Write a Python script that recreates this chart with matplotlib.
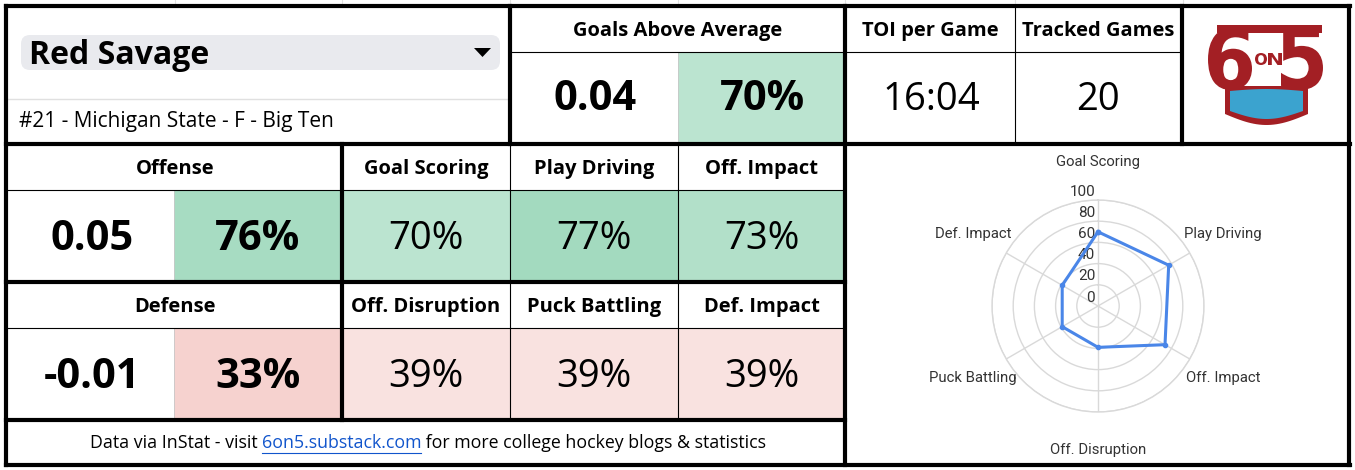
import numpy as np
import matplotlib
matplotlib.use('Agg')
from matplotlib import pyplot as plt
from matplotlib.colors import LinearSegmentedColormap
from matplotlib.patches import Rectangle, FancyBboxPatch, Polygon, PathPatch
from matplotlib.textpath import TextPath
from matplotlib.font_manager import FontProperties
from matplotlib.transforms import Affine2D

''' Player data '''
playerName = 'Red Savage'
playerInfo = '#21 - Michigan State - F - Big Ten'
gaaValue = 0.04
gaaPercentile = 70
toiPerGame = '16:04'
trackedGames = 20
offenseValue = 0.05
offensePercentile = 76
defenseValue = -0.01
defensePercentile = 33
offenseCategories = ['Goal Scoring', 'Play Driving', 'Off. Impact']
offensePercentiles = [70, 77, 73]
defenseCategories = ['Off. Disruption', 'Puck Battling', 'Def. Impact']
defensePercentiles = [39, 39, 39]
radarTicks = [0, 20, 40, 60, 80, 100]
footerParts = ['Data via InStat - visit ', '6on5.substack.com',
               ' for more college hockey blogs & statistics']

''' Layout (pixels) '''
W, H = 1355, 470
FONT = 'Open Sans'
THICK = 3.0
THIN = 0.8
HEAD = 14.5      # header size
BIG = 30         # bold big numbers
MED = 27.5       # regular percentiles
sheetScale = LinearSegmentedColormap.from_list('sheets', ['#e67c73', '#ffffff', '#57bb8a'])

fig = plt.figure(figsize=(W / 100, H / 100), dpi=100)
ax = fig.add_axes([0, 0, 1, 1])
ax.set_xlim(0, W)
ax.set_ylim(H, 0)
ax.axis('off')


def pct_color(p):
    return sheetScale(p / 100)


def cell(x0, x1, y0, y1, color):
    ax.add_patch(Rectangle((x0, y0), x1 - x0, y1 - y0, facecolor=color,
                           edgecolor='none', zorder=1))


def put(x, y, s, size, bold=False, ha='center', color='black'):
    return ax.text(x, y, s, fontsize=size, fontweight='bold' if bold else 'normal',
                   family=FONT, ha=ha, va='center', color=color, zorder=5)


# faint spreadsheet grid outside the card
for gx in [175, 342, 510, 678, 845, 1015, 1183]:
    ax.plot([gx, gx], [0, 6], color='#e2e2e2', lw=0.8, zorder=0)

''' Name block '''
ax.add_patch(FancyBboxPatch((21, 35), 479, 35, boxstyle='round,pad=0,rounding_size=9',
                            facecolor='#e9eaee', edgecolor='none', zorder=1))
put(29, 55, playerName, 23, bold=True, ha='left')
ax.add_patch(Polygon([[474, 48], [491, 48], [482.5, 57]], closed=True,
                     facecolor='black', edgecolor='none', zorder=5))
ax.plot([7, 510], [98.5, 98.5], color='#e0e0e0', lw=1, zorder=2)
put(19, 122, playerInfo, 15, ha='left')

''' Top stat boxes '''
cell(678, 845, 52, 143, pct_color(gaaPercentile))
put(677.5, 31, 'Goals Above Average', HEAD, bold=True)
put(595, 100, f'{gaaValue:.2f}', BIG, bold=True)
put(762, 100, f'{gaaPercentile}%', BIG, bold=True)
put(930, 31, 'TOI per Game', HEAD, bold=True)
put(1098, 31, 'Tracked Games', HEAD, bold=True)
put(931, 100, toiPerGame, 27.5)
put(1098, 100, str(trackedGames), 27.5)

''' Offense / defense rows '''
colEdges = [342, 510, 678, 845]
rows = [(144, 190, 282, 'Offense', offenseValue, offensePercentile,
         offenseCategories, offensePercentiles),
        (282, 328, 420, 'Defense', defenseValue, defensePercentile,
         defenseCategories, defensePercentiles)]
for top, mid, bot, title, value, pct, cats, pcts in rows:
    cell(174, 342, mid, bot, pct_color(pct))
    ax.plot([174, 174], [mid, bot], color='#c8c8c8', lw=0.6, zorder=2)
    put(175, (top + mid) / 2 + 2, title, HEAD, bold=True)
    put(92, (mid + bot) / 2 + 3, f'{value:.2f}', BIG, bold=True)
    put(258, (mid + bot) / 2 + 3, f'{pct}%', BIG, bold=True)
    for i, (cat, p) in enumerate(zip(cats, pcts)):
        x0, x1 = colEdges[i], colEdges[i + 1]
        cell(x0, x1, mid, bot, pct_color(p))
        put((x0 + x1) / 2, (top + mid) / 2 + 2, cat, HEAD, bold=True)
        put((x0 + x1) / 2, (mid + bot) / 2 + 3, f'{p}%', MED)
ax.plot([678, 678], [52, 143], color='#c8c8c8', lw=0.6, zorder=2)

''' Footer with link '''
renderer = fig.canvas.get_renderer()
parts = []
for i, s in enumerate(footerParts):
    t = ax.text(0, 443, s, fontsize=12.8, family=FONT, ha='left', va='center',
                color='#1155cc' if i == 1 else 'black', zorder=5)
    parts.append(t)
widths = [t.get_window_extent(renderer).width for t in parts]
xStart = 428 - sum(widths) / 2
for t, w in zip(parts, widths):
    t.set_x(xStart)
    if t.get_color() == '#1155cc':
        ax.plot([xStart, xStart + w], [453, 453], color='#1155cc', lw=0.8, zorder=5)
    xStart += w

''' Grid lines '''
thickLines = [((6, 1350), (6, 6)), ((6, 1350), (144, 144)), ((6, 845), (282, 282)),
              ((6, 845), (420, 420)), ((6, 1350), (465, 465)),
              ((6, 6), (6, 465)), ((1349, 1349), (6, 465)), ((845, 845), (6, 465)),
              ((510, 510), (6, 144)), ((1182, 1182), (6, 144)), ((342, 342), (144, 420))]
thinLines = [((510, 1182), (52, 52)), ((6, 845), (190, 190)), ((6, 845), (328, 328)),
             ((510, 510), (144, 420)), ((678, 678), (144, 420)), ((1015, 1015), (6, 144))]
for xs, ys in thickLines:
    ax.plot(xs, ys, color='black', lw=THICK, solid_capstyle='projecting', zorder=6)
for xs, ys in thinLines:
    ax.plot(xs, ys, color='black', lw=THIN, zorder=4)

''' Logo '''
logoRed = '#a31f24'
logoFont = FontProperties(family='DejaVu Sans', weight='bold')


def glyph(s, x0, x1, y0, y1):
    tp = TextPath((0, 0), s, size=100, prop=logoFont)
    bb = tp.get_extents()
    sx = (x1 - x0) / bb.width
    sy = (y1 - y0) / bb.height
    tr = Affine2D().translate(-bb.x0, -bb.y1).scale(sx, -sy).translate(x0, y0)
    ax.add_patch(PathPatch(tr.transform_path(tp), facecolor=logoRed,
                           edgecolor='none', zorder=5))


glyph('6', 1208, 1252, 27, 90)
glyph('5', 1281, 1323, 25, 90)
ax.add_patch(Rectangle((1217, 25), 105, 8, facecolor=logoRed, edgecolor='none', zorder=5))
glyph('O', 1255, 1267, 53, 65)
glyph('N', 1268, 1282, 53, 65)
bowlX = np.linspace(0, 1, 30)
outer = ([[1225, 86], [1308, 86], [1308, 114]] +
         [[1308 - 83 * t, 114 + 11 * np.sin(np.pi * t)] for t in bowlX] +
         [[1225, 114]])
ax.add_patch(Polygon(outer, closed=True, facecolor=logoRed, edgecolor='none', zorder=5))
inner = ([[1230 + 73 * t, 91 - 2 * np.sin(np.pi * t)] for t in bowlX] +
         [[1303, 111]] +
         [[1303 - 73 * t, 111 + 8 * np.sin(np.pi * t)] for t in bowlX])
ax.add_patch(Polygon(inner, closed=True, facecolor='#3ba3cf', edgecolor='none', zorder=6))

''' Radar chart '''
cx, cy, R = 1098, 306, 106
rax = fig.add_axes([(cx - R) / W, 1 - (cy + R) / H, 2 * R / W, 2 * R / H],
                   projection='polar')
rax.set_theta_zero_location('N')
rax.set_theta_direction(-1)
radarCats = offenseCategories + defenseCategories
radarVals = offensePercentiles + defensePercentiles
theta = np.arange(len(radarCats)) * 2 * np.pi / len(radarCats)
rax.set_ylim(0, 100)
rax.set_thetagrids(np.degrees(theta), labels=[''] * len(theta))
rax.set_rgrids(radarTicks[1:], labels=[''] * (len(radarTicks) - 1))
rax.grid(color='#d9d9d9', lw=1)
rax.spines['polar'].set_color('#d9d9d9')
rax.spines['polar'].set_linewidth(1)
rax.set_facecolor('none')
rax.tick_params(length=0)
rax.plot(np.append(theta, theta[0]), radarVals + radarVals[:1], color='#4a86e8',
         lw=2.2, marker='o', markersize=3, zorder=5, clip_on=False)
for th, cat in zip(theta, radarCats):
    rax.text(th, 136, cat, ha='center', va='center', fontsize=10.7, family='Roboto',
             color='#333333', clip_on=False)
for tk in radarTicks:
    rax.annotate(str(tk), xy=(0, tk), xytext=(-2, 6), textcoords='offset points',
                 ha='right', va='center', fontsize=11, family='Roboto',
                 color='#333333', annotation_clip=False)

fig.savefig('out.png', dpi=100)
